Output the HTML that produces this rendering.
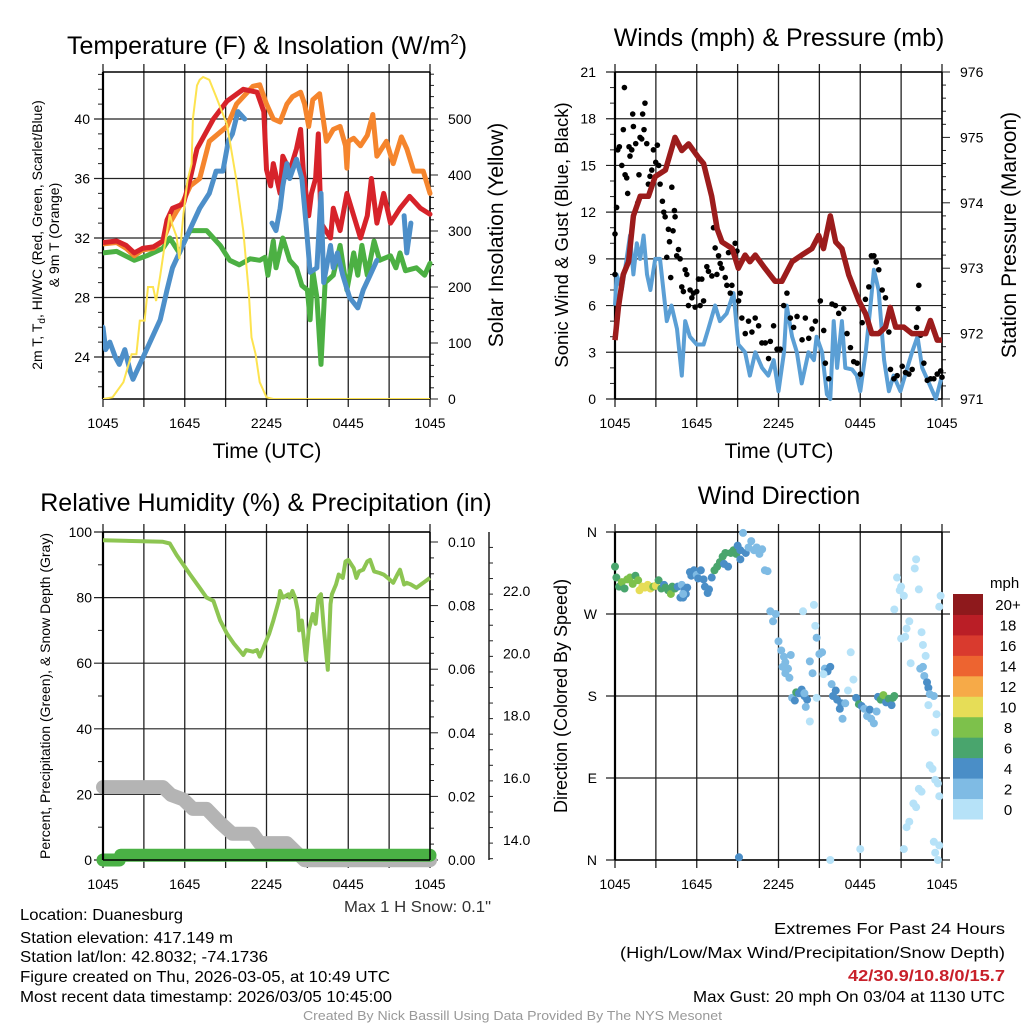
<!DOCTYPE html>
<html><head><meta charset="utf-8"><style>
html,body{margin:0;padding:0;background:#fff}
svg{display:block}
text{font-family:"Liberation Sans",sans-serif;fill:#000}
</style></head><body>
<svg id="c" width="1024" height="1024" viewBox="0 0 1024 1024" xmlns="http://www.w3.org/2000/svg"></svg>
<script>
// ---------- DATA ----------
const timeTickLabels=["1045","1645","2245","0445","1045"];
const redT=[[0,31.7],[1.0,31.8],[1.7,31.5],[2.3,31.0],[2.9,31.3],[3.7,31.4],[4.4,31.8],[4.7,33.2],[5.1,34.0],[5.9,34.3],[6.4,36],[6.9,38],[8.1,40],[9.1,41.2],[10.3,42.0],[11.3,41.8],[11.8,40.5],[12.0,36.6],[12.3,35.5],[12.5,37],[13.0,35],[13.2,37.5],[13.7,36.5],[14.2,38],[14.5,39.3],[14.7,36.5],[15.1,33.5],[15.3,35],[15.6,36],[15.8,39],[16.0,33],[16.7,32],[16.9,34],[17.4,32.5],[17.9,35],[18.4,33.5],[18.9,32.0],[19.4,33.5],[19.7,36],[20.1,33],[20.6,35],[21.1,33],[21.8,34],[22.5,34.8],[23.3,34],[24,33.6]];
const orangeT=[[0,31.6],[1,31.7],[1.7,31.3],[2.3,30.8],[2.9,31.2],[3.7,31.3],[4.4,31.8],[4.9,33.0],[5.4,33.8],[5.9,34.5],[6.4,35.5],[7.1,36.0],[7.8,38.5],[9.1,39.5],[9.8,41],[11.0,42.2],[11.5,42.3],[12.0,41],[12.5,40],[13.0,39.8],[13.5,41],[13.9,41.5],[14.5,41.8],[14.8,41],[15.1,39.5],[15.4,41.3],[15.9,41.7],[16.4,38.5],[16.9,39.3],[17.4,39.5],[17.8,38.2],[17.9,36.7],[18.0,38.5],[18.4,38.7],[18.9,38.2],[19.4,38.9],[19.8,40.3],[20.1,37.5],[20.8,38.5],[21.3,37],[21.9,38.8],[22.3,38],[22.8,36.5],[23.5,36.5],[24,35]];
const greenTd=[[0,31.0],[1,31.1],[2.3,30.5],[3.2,30.8],[4.4,31.3],[4.9,32],[5.6,31],[6.1,32],[6.4,32.5],[7.6,32.5],[8.6,31.5],[9.3,30.5],[10.0,30.2],[10.8,30.6],[11.5,30.5],[11.9,30.7],[12.1,29.5],[12.5,31.8],[12.7,30],[13.2,32],[13.7,30.5],[14.2,30],[14.6,28.8],[15.0,28.5],[15.2,26.5],[15.4,29.8],[15.7,28],[16.0,23.5],[16.3,29],[16.9,29.5],[17.4,31.5],[17.9,28.5],[18.4,31],[18.7,29.5],[19.0,31.5],[19.4,29.5],[19.9,31.8],[20.3,30.5],[21.1,30.8],[21.5,30],[21.8,31],[22.2,29.8],[23.0,30],[23.6,29.5],[24,30.3]];
const blueWC=[[0,26],[0.2,24.5],[0.5,25],[0.9,24],[1.2,23.5],[1.6,24.5],[2.0,23],[2.2,22.5],[2.7,23.5],[3.2,24.5],[3.7,25.5],[4.2,26.5],[4.7,28.5],[5.1,30],[5.6,31],[6.1,32],[6.6,33],[7.1,34],[7.8,35],[8.3,36.5],[8.8,36.5],[9.2,38.5],[9.5,39],[9.9,40.5],[10.4,40],null,[12.4,33],[12.7,32.5],[13.0,34],[13.2,35.5],[13.5,37],[13.7,36],[14.2,37.3],[14.6,36],[14.9,33],[15.2,29.7],[15.7,30],[16.0,35],[16.2,29],[16.7,31.5],[16.9,30],[17.2,31],[17.6,29.5],[18.1,28],[18.7,27.3],[19.1,28.5],[19.6,29.5],[20.1,30.5],null,[22.1,33.5],[22.3,31],[22.6,33]];
const solar=[[0,0],[0.7,3],[1.5,30],[2.1,80],[2.45,80],[2.7,140],[3.05,140],[3.3,200],[3.67,200],[3.9,175],[4.2,220],[4.5,270],[4.9,330],[5.1,310],[5.4,290],[5.6,250],[5.9,330],[6.2,390],[6.5,420],[6.6,500],[6.9,560],[7.1,570],[7.35,575],[7.8,570],[8.3,540],[9.1,490],[9.8,390],[10.3,300],[10.7,190],[10.9,110],[11.2,80],[11.5,30],[12.0,3],[12.5,0],[24,0]];
const tempTicks=[24,28,32,36,40];
const solarTicks=[0,100,200,300,400,500];
const pressure=[[0,971.9],[0.25,972.4],[0.6,972.9],[1.0,973.1],[1.35,973.8],[1.85,974.1],[2.45,974.1],[2.95,974.4],[3.7,974.5],[4.4,975.0],[4.9,974.8],[5.4,974.9],[6.1,974.7],[6.5,974.6],[7.1,974.1],[7.5,973.6],[7.85,973.4],[8.6,973.3],[9.05,973.0],[9.55,973.2],[9.9,973.1],[10.3,973.2],[11.0,973.0],[11.75,972.8],[12.25,972.8],[13.0,973.1],[13.7,973.2],[14.45,973.3],[14.95,973.5],[15.3,973.3],[15.8,973.8],[16.2,973.4],[16.65,973.3],[17.15,972.9],[17.9,972.5],[18.4,972.3],[18.85,972.0],[19.35,972.0],[19.85,972.1],[20.2,972.4],[20.6,972.1],[21.2,972.1],[21.8,972.0],[22.8,972.0],[23.15,972.2],[23.65,971.9],[24,971.9]];
const wind=[[0,6],[0.12,8],[0.5,7],[0.85,9],[1.1,10.5],[1.35,8],[1.6,10],[1.85,9],[2.1,10.5],[2.35,8],[2.6,7],[2.95,9],[3.3,9],[3.55,7],[3.8,5],[4.15,6],[4.55,4.5],[4.9,1.5],[5.15,5],[5.5,4],[6.0,3.5],[6.5,3.5],[6.85,4.5],[7.35,6],[7.7,5],[8.2,5.5],[8.7,6.8],[9.05,3.5],[9.55,3],[9.9,1.5],[10.3,3],[10.8,2],[11.25,1.5],[11.65,2.5],[12.0,0.5],[12.4,3],[12.6,6],[13.0,4],[13.35,3],[13.7,1],[14.2,3],[14.6,2.5],[14.8,4],[15.2,3],[15.55,0.3],[15.8,0],[16.05,5],[16.3,2],[16.65,5],[16.9,2],[17.4,1.9],[17.75,1.5],[18.0,0.5],[18.4,3],[18.75,6],[19.0,8.3],[19.35,7],[19.75,2.5],[20.1,0.5],[20.45,1.5],[20.95,0.5],[21.45,2],[21.8,3],[22.2,4],[22.55,2],[23.05,1],[23.55,0],[24,1.5]];
const gustT=[0,0,0.12,0.2,0.32,0.5,0.61,0.69,0.74,0.86,0.93,1.03,1.1,1.23,1.3,1.35,1.52,1.67,1.76,1.84,1.96,2.03,2.13,2.2,2.33,2.45,2.57,2.7,2.82,2.99,3.11,3.21,3.31,3.48,3.58,3.68,3.8,3.92,4.0,4.09,4.17,4.26,4.36,4.41,4.53,4.66,4.78,4.9,5.02,5.15,5.27,5.39,5.51,5.64,5.76,5.88,6.0,6.13,6.25,6.37,6.5,6.74,6.86,7.11,7.23,7.35,7.48,7.6,7.72,7.84,8.09,8.21,8.33,8.46,8.58,8.82,8.95,9.07,9.19,9.31,9.56,9.8,10.05,10.29,10.54,10.78,11.03,11.27,11.4,11.64,11.89,12.13,12.38,12.62,12.87,13.11,13.36,13.73,13.97,14.22,14.46,14.71,15.07,15.32,15.44,15.69,15.93,16.18,16.42,16.79,17.03,17.28,17.52,17.77,18.01,18.14,18.38,18.63,18.82,19.0,19.17,19.36,19.61,19.85,20.1,20.22,20.47,20.71,21.08,21.32,21.57,21.81,22.13,22.25,22.3,22.43,22.67,22.92,23.16,23.4,23.65,23.9,24];
const gustV=[8,10.6,12.3,16,16.2,15,17.3,20,14.4,14.2,13.2,16.2,15.6,16,18.3,17.5,16.4,12.6,14.4,16.8,16.7,18.3,17.3,19,16.4,13.8,14.3,14.7,16,15.2,16.3,15,13.8,12.7,12,11.7,9.1,10.9,10.1,7.8,13.6,10.8,12.1,11.7,9.2,9.6,9,7.2,6.9,8.3,8,6,7,6.5,6.8,5.9,6.9,7.7,6,7.7,6.3,8.5,8.2,7.9,11,9.7,8,9.2,8.7,8.4,7.8,7.3,9.4,6.8,7.3,10,9.5,6.3,6.8,5.2,4.2,5,4.3,5.2,4.7,3.6,3.6,2.6,3.7,4.7,3.2,3.2,6,6.8,5.2,4.6,5.3,3.8,5.2,3.9,4.5,5,6.3,4.4,2.3,1.3,6.1,6,5.5,5.8,4.2,3.3,2.4,2.3,1.6,4.9,6.4,7.2,9.2,9.2,8.8,8.3,7,6.5,4.3,1.9,1.3,1.5,2.1,1.7,1.6,1.9,4.6,5.8,7.3,4.1,2.3,1.2,1.3,1.3,1.6,1.8,1.4];
const windTicks=[0,3,6,9,12,15,18,21];
const presTicks=[971,972,973,974,975,976];
const rh=[[0,97.5],[4.4,97],[4.9,96.5],[5.4,93],[5.9,90],[6.4,87],[7.1,83],[7.6,80],[8.1,79],[8.6,73],[9.1,69],[9.6,66],[10.0,64],[10.3,62.5],[10.5,64],[11.0,63.5],[11.3,64],[11.5,62],[11.9,66],[12.2,69],[12.5,73],[12.9,79],[13.0,82],[13.2,80],[13.6,81],[13.7,80],[13.9,82],[14.1,80],[14.3,76],[14.4,70],[14.6,73],[14.9,61],[15.1,70],[15.4,75],[15.6,72],[15.8,80],[16.0,81],[16.2,71],[16.5,58],[16.7,78],[16.8,81],[17.1,84],[17.3,87],[17.6,86],[17.8,91],[18.0,91.5],[18.4,89],[18.6,86],[18.8,88],[19.1,88.5],[19.4,91],[19.6,91.5],[19.9,88],[20.3,87.5],[20.6,87],[20.9,86],[21.3,84.5],[21.6,87],[21.8,88.5],[22.1,84],[22.3,84.5],[22.6,84],[23.0,83],[23.5,84.5],[24,86]];
const snow=[[0,15.7],[4.4,15.7],[5.0,15.45],[5.9,15.3],[6.6,15.0],[7.6,15.0],[8.6,14.55],[9.5,14.2],[11.0,14.2],[11.5,13.9],[13.5,13.9],[14.2,13.6],[14.8,13.35],[24,13.35]];
const precip=[[0,0],[1.2,0],[1.3,0.0015],[24,0.0015]];
const rhTicks=[0,20,40,60,80,100];
const precipTicks=["0.00","0.02","0.04","0.06","0.08","0.10"];
const snowTicks=[14,16,18,20,22];
const dirObs=[[0,322,6],[0.1,310,6],[0.3,300,7],[0.5,305,8],[0.7,298,7],[0.9,308,8],[1.1,310,9],[1.3,303,8],[1.5,312,6],[1.7,307,8],[1.8,296,10],[2.0,300,10],[2.2,299,10],[2.4,302,11],[2.6,298,10],[2.8,300,8],[3.0,301,10],[3.2,307,6],[3.4,298,6],[3.6,302,4],[3.7,299,6],[3.9,296,6],[4.1,292,8],[4.2,300,6],[4.4,298,6],[4.6,300,4],[4.8,288,4],[4.9,302,3],[5.0,288,4],[5.1,296,4],[5.2,292,4],[5.3,299,4],[5.5,316,4],[5.6,312,4],[5.8,318,4],[6.0,313,2],[6.1,309,4],[6.3,318,4],[6.5,308,4],[6.6,300,4],[6.8,293,4],[6.9,297,4],[7.1,310,4],[7.3,318,6],[7.5,322,6],[7.7,327,6],[7.9,333,6],[8.1,337,6],[8.0,325,4],[8.3,322,4],[8.5,337,6],[8.7,340,6],[8.9,336,6],[9.0,345,5],[9.2,330,4],[9.2,340,4],[9.4,359,2],[9.6,337,4],[9.8,343,2],[10.0,350,2],[10.2,340,2],[10.4,343,2],[10.6,336,2],[10.8,341,2],[11.0,318,2],[11.2,317,2],[11.4,273,2],[11.6,262,2],[11.8,270,2],[12.0,240,2],[12.2,230,2],[12.4,223,2],[12.5,217,2],[12.7,210,2],[12.9,225,2],[12.3,212,2],[12.5,205,2],[12.8,200,2],[13.0,178,2],[13.2,175,4],[13.3,184,6],[13.5,183,4],[13.7,187,4],[13.9,180,4],[14.1,176,4],[14.0,168,2],[14.3,152,1],[13.9,183,2],[14.6,280,1],[14.7,257,1],[14.8,244,2],[15.0,226,2],[15.2,228,2],[15.4,210,2],[15.6,207,4],[15.8,212,4],[15.9,193,2],[16.0,180,4],[16.2,186,4],[16.3,176,4],[16.5,166,4],[16.6,172,4],[16.7,155,2],[16.9,172,2],[17.1,186,1],[17.3,228,1],[17.5,198,1],[17.7,178,4],[17.9,171,6],[18.1,169,4],[18.3,166,2],[18.5,158,2],[18.7,165,4],[18.8,155,2],[19.0,150,2],[19.2,163,2],[19.3,179,4],[19.5,176,6],[19.7,181,8],[19.9,173,4],[20.1,177,6],[20.3,170,4],[20.4,178,6],[20.5,180,6],[20.7,310,1],[20.9,296,1],[21.0,300,1],[21.2,290,1],[21.3,245,1],[21.6,262,1],[21.4,254,1],[21.7,216,1],[20.5,275,1],[21.0,243,1],[22.0,320,1],[22.1,330,1],[22.3,297,1],[22.5,250,1],[22.6,236,1],[22.8,224,1],[22.4,210,2],[22.6,212,2],[22.7,202,2],[22.9,195,4],[23.0,189,4],[23.1,182,2],[23.4,180,2],[23.0,170,1],[23.1,104,1],[23.3,100,1],[23.5,88,1],[23.7,84,1],[23.8,70,1],[22.5,75,1],[22.3,78,1],[22.1,58,1],[21.9,62,1],[21.6,42,1],[21.4,36,1],[21.2,12,1],[23.4,20,1],[23.5,8,1],[23.7,0,1],[23.8,16,1],[23.9,290,1],[23.8,278,1],[23.6,160,1],[23.5,140,1],[15.8,0,1],[15.3,204,1],[14.8,178,1],[9.1,3,4],[18.0,12,1],[13.8,273,1],[5.0,292,2],[14.5,205,2],[14.3,218,2]];
const dirLabels=["N","E","S","W","N"];
const speedBins=["0","2","4","6","8","10","12","14","16","18","20+"];
const binColors=["#b6e2f8","#7fbbe4","#4a8ec7","#49a56d","#7dc14b","#e6dd57","#f6aa48","#ed6430","#d93a2e","#ba1e26","#8e191c"];

// ---------- DRAW ----------
const svg=document.getElementById('c');
const NS="http://www.w3.org/2000/svg";
function el(tag,attrs,parent,txt){const e=document.createElementNS(NS,tag);for(const k in attrs)e.setAttribute(k,attrs[k]);if(txt!==undefined)e.textContent=txt;(parent||svg).appendChild(e);return e;}
function lin(d0,d1,r0,r1){return v=>r0+(v-d0)/(d1-d0)*(r1-r0);}
function pathFrom(data,fx,fy){let d="",pen=false;for(const p of data){if(!p){pen=false;continue;}d+=(pen?"L":"M")+fx(p[0]).toFixed(1)+","+fy(p[1]).toFixed(1);pen=true;}return d;}

function frame(g,L,R,T,B,fx){
  for(let h=0;h<=24;h+=3){const x=fx(h);
    const gl=el('line',{x1:x,y1:T-8,x2:x,y2:B+8,stroke:'#222','stroke-width':1.3},g);
    
    if(h%6===0){const t=el('text',{x:x,y:B+29,'font-size':14,'text-anchor':'middle'},g,timeTickLabels[h/6]);
      }
  }
}
function hgrid(g,L,R,y,ext){const l=el('line',{x1:L-9,y1:y,x2:R+(ext||0),y2:y,stroke:'#222','stroke-width':1.2},g);
  }
function box(g,L,R,T,B){el('line',{x1:L,y1:T,x2:L,y2:B,stroke:'#000','stroke-width':2.2},g);el('line',{x1:R,y1:T,x2:R,y2:B,stroke:'#000','stroke-width':1.5},g);
  el('line',{x1:L,y1:T,x2:R,y2:T,stroke:'#000','stroke-width':1.5},g);el('line',{x1:L,y1:B,x2:R,y2:B,stroke:'#000','stroke-width':1.5},g);}
function minor(g,x,y,len){el('line',{x1:x,y1:y,x2:x+len,y2:y,stroke:'#222','stroke-width':1},g);}

// ===== Panel 1 =====
(function(){
const L=103,R=430,T=72,B=399;
const g=el('g',{});
const fx=lin(0,24,L,R), fy=lin(24,40,357,119), fs=lin(0,500,B,119);
frame(g,L,R,T,B,fx);
for(let v=22;v<=43;v++){if(v%4===0)continue;minor(g,L-5,fy(v),5);}
tempTicks.forEach(v=>{hgrid(g,L,R,fy(v));const t=el('text',{x:90,y:fy(v)+5,'font-size':14,'text-anchor':'end'},g,v);});
for(let v=0;v<=580;v+=20){const y=fs(v);if(y<T)break;el('line',{x1:R,y1:y,x2:R+(v%100===0?8:4),y2:y,stroke:'#222','stroke-width':1},g);}
solarTicks.forEach(v=>{const t=el('text',{x:448,y:fs(v)+5,'font-size':14},g,v);});
box(g,L,R,T,B);
const cp=el('clipPath',{id:'cp1'},g);el('rect',{x:L,y:T-4,width:R-L+4,height:B-T+4},cp);
const sg=el('g',{'clip-path':'url(#cp1)'},g);
[[greenTd,'#4cb043','green-dewpoint-line'],[orangeT,'#f5852d','orange-9m-temp-line'],[redT,'#d7232a','red-2m-temp-line'],[blueWC,'#4d8fc9','blue-windchill-line']].forEach(s=>{
 const p=el('path',{d:pathFrom(s[0],fx,fy),fill:'none',stroke:s[1],'stroke-width':5,'stroke-linejoin':'round','stroke-linecap':'round'},sg);
 });
const sp=el('path',{d:pathFrom(solar,fx,fs),fill:'none',stroke:'#fde34f','stroke-width':2},sg);

const ti=el('text',{x:267,y:54,'font-size':25,'text-anchor':'middle'},g);
ti.innerHTML='Temperature (F) &amp; Insolation (W/m<tspan dy="-10" font-size="15">2</tspan><tspan dy="10">)</tspan>';
const xl=el('text',{x:267,y:458,'font-size':21,'text-anchor':'middle'},g,'Time (UTC)');
const yl=el('text',{transform:'translate(42,235) rotate(-90)','font-size':14,'text-anchor':'middle'},g);
yl.innerHTML='2m T, T<tspan dy="3" font-size="10">d</tspan><tspan dy="-3">, HI/WC (Red, Green, Scarlet/Blue)</tspan>';
const yl2=el('text',{transform:'translate(59,235) rotate(-90)','font-size':14,'text-anchor':'middle'},g,'& 9m T (Orange)');
const yr=el('text',{transform:'translate(503,235) rotate(-90)','font-size':21,'text-anchor':'middle'},g,'Solar Insolation (Yellow)');
})();

// ===== Panel 2 =====
(function(){
const L=615,R=942,T=72,B=399;
const g=el('g',{});
const fx=lin(0,24,L,R), fy=lin(0,21,B,T), fp=lin(971,976,B,T);
frame(g,L,R,T,B,fx);
for(let v=1;v<21;v++){if(v%3===0)continue;minor(g,L-5,fy(v),5);}
windTicks.forEach(v=>{hgrid(g,L,R,fy(v));const t=el('text',{x:596,y:fy(v)+5,'font-size':14,'text-anchor':'end'},g,v);});
for(let v=971;v<=976.001;v+=0.2){const y=fp(v);const maj=Math.abs(v-Math.round(v))<0.01;el('line',{x1:R,y1:y,x2:R+(maj?8:4),y2:y,stroke:'#222','stroke-width':1},g);}
presTicks.forEach(v=>{const t=el('text',{x:960,y:fp(v)+5,'font-size':14},g,v);});
box(g,L,R,T,B);
const cp=el('clipPath',{id:'cp2'},g);el('rect',{x:L-4,y:T-4,width:R-L+8,height:B-T+8},cp);
const sg=el('g',{'clip-path':'url(#cp2)'},g);
const wp=el('path',{d:pathFrom(wind,fx,fy),fill:'none',stroke:'#5b9fd5','stroke-width':4,'stroke-linejoin':'round'},sg);
gustT.forEach((t,i)=>{const c=el('circle',{cx:fx(t),cy:fy(gustV[i]),r:2.8,fill:'#000'},sg);});
const pp=el('path',{d:pathFrom(pressure,fx,fp),fill:'none',stroke:'#9c1c1c','stroke-width':5.5,'stroke-linejoin':'round'},sg);
const ti=el('text',{x:779,y:46,'font-size':25,'text-anchor':'middle'},g,'Winds (mph) & Pressure (mb)');
const xl=el('text',{x:779,y:458,'font-size':21,'text-anchor':'middle'},g,'Time (UTC)');
const yl=el('text',{transform:'translate(568,235) rotate(-90)','font-size':18.5,'text-anchor':'middle'},g,'Sonic Wind & Gust (Blue, Black)');
const yr=el('text',{transform:'translate(1016,235) rotate(-90)','font-size':21,'text-anchor':'middle'},g,'Station Pressure (Maroon)');
})();

// ===== Panel 3 =====
(function(){
const L=103,R=430,T=532,B=860;
const g=el('g',{});
const fx=lin(0,24,L,R), fy=lin(0,100,B,T), fpr=lin(0,0.10,B,542), fsn=lin(14,22,840,591);
frame(g,L,R,T,B,fx);
for(let v=10;v<100;v+=20)minor(g,L-5,fy(v),5);
rhTicks.forEach(v=>{hgrid(g,L,R,fy(v));const t=el('text',{x:92,y:fy(v)+5,'font-size':14,'text-anchor':'end'},g,v);});
for(let i=0;i<=20;i++){const y=fpr(i*0.005);el('line',{x1:R,y1:y,x2:R+(i%4===0?8:4),y2:y,stroke:'#222','stroke-width':1},g);}
precipTicks.forEach(v=>{const t=el('text',{x:448,y:fpr(+v)+5,'font-size':14},g,v);});
el('line',{x1:489,y1:T,x2:489,y2:B,stroke:'#222','stroke-width':1.5},g);
for(let v=13.4;v<=23.5;v+=0.5){const y=fsn(v);if(y<T||y>B)continue;const maj=Math.abs(v-Math.round(v))<0.01&&Math.round(v)%2===0;el('line',{x1:489,y1:y,x2:489+(maj?8:4),y2:y,stroke:'#222','stroke-width':1},g);}
snowTicks.forEach(v=>{const t=el('text',{x:503,y:fsn(v)+5,'font-size':14},g,v.toFixed(1));});
const sp=el('path',{d:pathFrom(snow,fx,fsn),fill:'none',stroke:'#b4b4b4','stroke-width':14,'stroke-linejoin':'round','stroke-linecap':'round'},g);
const pp=el('path',{d:pathFrom(precip,fx,fpr),fill:'none',stroke:'#4ab145','stroke-width':13,'stroke-linejoin':'round','stroke-linecap':'round'},g);
box(g,L,R,T,B);
const rp=el('path',{d:pathFrom(rh,fx,fy),fill:'none',stroke:'#8dc552','stroke-width':4,'stroke-linejoin':'round'},g);
const ti=el('text',{x:266,y:511,'font-size':25,'text-anchor':'middle'},g,'Relative Humidity (%) & Precipitation (in)');
const yl=el('text',{transform:'translate(50,696) rotate(-90)','font-size':14,'text-anchor':'middle'},g,'Percent, Precipitation (Green), & Snow Depth (Gray)');
const ms=el('text',{x:344,y:912,'font-size':16,textLength:147,lengthAdjust:'spacingAndGlyphs',style:'fill:#333'},g,'Max 1 H Snow: 0.1"');
})();

// ===== Panel 4 =====
(function(){
const L=615,R=942,T=532,B=860;
const g=el('g',{});
const fx=lin(0,24,L,R), fy=lin(0,360,B,T);
frame(g,L,R,T,B,fx);
dirLabels.forEach((d,i)=>{const y=fy(i*90);hgrid(g,L,R,y,8);const t=el('text',{x:597,y:y+5,'font-size':14,'text-anchor':'end'},g,d);});
box(g,L,R,T,B);
dirObs.forEach(o=>{const b=Math.min(10,Math.floor(o[2]/2));const c=el('circle',{cx:fx(o[0]),cy:fy(o[1]),r:4,fill:binColors[b]},g);});
const cb=el('g',{},g);
const cbTop=594,cbH=225/11;
speedBins.forEach((s,i)=>{const y=cbTop+(10-i)*cbH;const r=el('rect',{x:953,y:y,width:30,height:cbH+0.5,fill:binColors[i]},cb);
 const t=el('text',{x:1008,y:y+cbH/2+6,'font-size':15,'text-anchor':'middle'},cb,s);});
const u=el('text',{x:990,y:588,'font-size':15},cb,'mph');
const ti=el('text',{x:779,y:504,'font-size':25,'text-anchor':'middle'},g,'Wind Direction');
const yl=el('text',{transform:'translate(567,696) rotate(-90)','font-size':18,'text-anchor':'middle'},g,'Direction (Colored By Speed)');
})();

// ===== Footer text =====
const infoLeft=["Location: Duanesburg","Station elevation: 417.149 m","Station lat/lon: 42.8032; -74.1736","Figure created on Thu, 2026-03-05, at 10:49 UTC","Most recent data timestamp: 2026/03/05 10:45:00"];
const leftW=[163,213,248,370,372];
const leftY=[920,943,962,982,1002];
infoLeft.forEach((s,i)=>{const t=el('text',{x:20,y:leftY[i],'font-size':16,textLength:leftW[i],lengthAdjust:'spacingAndGlyphs'},svg,s);});
const r1=el('text',{x:774,y:934,'font-size':16,textLength:231,lengthAdjust:'spacingAndGlyphs'},svg,'Extremes For Past 24 Hours');
const r2=el('text',{x:620,y:958,'font-size':16,textLength:385,lengthAdjust:'spacingAndGlyphs'},svg,'(High/Low/Max Wind/Precipitation/Snow Depth)');
const r3=el('text',{x:848,y:981,'font-size':16,'font-weight':'bold',textLength:157,lengthAdjust:'spacingAndGlyphs',style:'fill:#c8202a'},svg,'42/30.9/10.8/0/15.7');
const r4=el('text',{x:693,y:1002,'font-size':16,textLength:312,lengthAdjust:'spacingAndGlyphs'},svg,'Max Gust: 20 mph On 03/04 at 1130 UTC');
const cr=el('text',{x:303,y:1020,'font-size':13,textLength:419,lengthAdjust:'spacingAndGlyphs',style:'fill:#999'},svg,'Created By Nick Bassill Using Data Provided By The NYS Mesonet');
</script>
</body></html>
